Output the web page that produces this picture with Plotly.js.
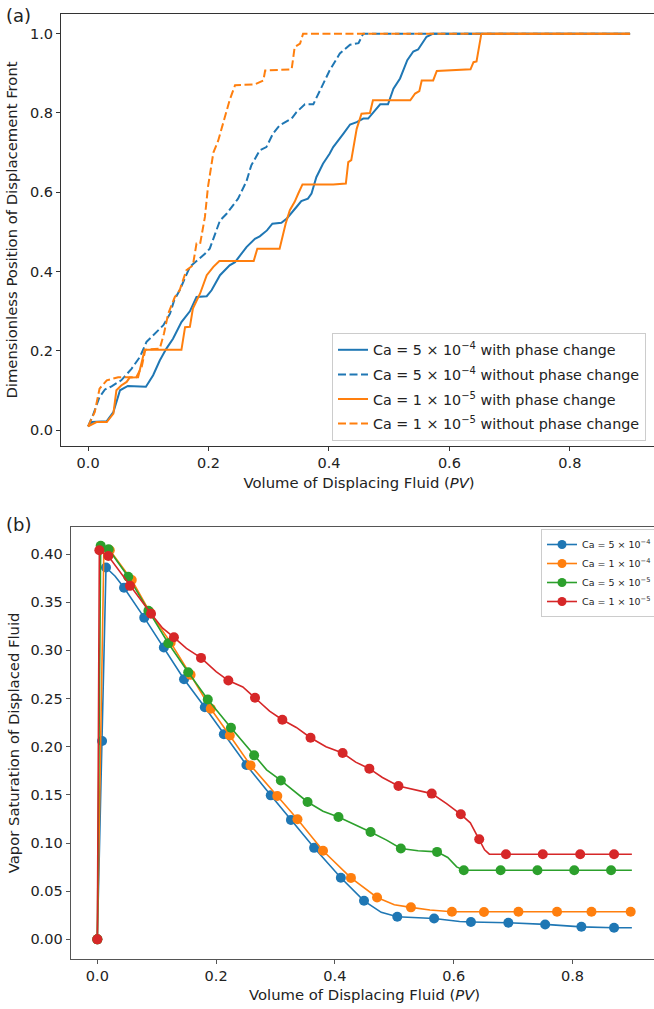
<!DOCTYPE html>
<html>
<head>
<meta charset="utf-8">
<script src="https://cdn.plot.ly/plotly-3.0.1.min.js"></script>
<style>html,body{margin:0;padding:0;overflow:hidden;background:#fff;}#chart{width:670px;height:1009px;}</style>
</head>
<body>
<div id="chart"></div>
<script>
// ---------- Panel (a): dimensionless front position ----------
const a_blue_with_x = [0,0.006,0.031,0.042,0.053,0.066,0.096,0.108,0.119,0.13,0.141,0.155,0.169,0.18,0.197,0.205,0.219,0.235,0.244,0.263,0.277,0.285,0.297,0.306,0.321,0.33,0.346,0.354,0.365,0.371,0.379,0.39,0.401,0.407,0.424,0.435,0.446,0.457,0.465,0.485,0.498,0.507,0.518,0.53,0.54,0.548,0.562,0.573,0.9];
const a_blue_with_y = [0.01,0.021,0.023,0.046,0.101,0.112,0.11,0.139,0.176,0.206,0.231,0.273,0.3,0.336,0.338,0.353,0.391,0.416,0.424,0.462,0.483,0.489,0.504,0.521,0.523,0.534,0.563,0.578,0.584,0.597,0.638,0.672,0.697,0.714,0.748,0.771,0.777,0.786,0.786,0.822,0.822,0.861,0.887,0.933,0.955,0.96,0.992,1.0,1.0];

const a_blue_without_x = [0,0.008,0.019,0.028,0.039,0.055,0.072,0.086,0.097,0.111,0.125,0.136,0.143,0.152,0.169,0.194,0.202,0.219,0.23,0.249,0.263,0.271,0.285,0.296,0.307,0.318,0.338,0.346,0.36,0.374,0.388,0.401,0.418,0.435,0.449,0.457,0.9];
const a_blue_without_y = [0.01,0.038,0.084,0.103,0.111,0.126,0.155,0.185,0.223,0.244,0.265,0.294,0.328,0.353,0.412,0.445,0.458,0.529,0.546,0.584,0.628,0.668,0.706,0.714,0.748,0.769,0.786,0.802,0.822,0.822,0.865,0.907,0.95,0.972,0.976,1.0,1.0];

const a_orange_with_x = [0,0.014,0.031,0.042,0.047,0.055,0.064,0.069,0.083,0.089,0.094,0.155,0.161,0.169,0.174,0.186,0.197,0.208,0.218,0.275,0.281,0.318,0.328,0.335,0.343,0.349,0.356,0.407,0.428,0.432,0.437,0.446,0.454,0.468,0.473,0.535,0.543,0.55,0.554,0.573,0.579,0.635,0.64,0.645,0.653,0.9];
const a_orange_with_y = [0.01,0.021,0.021,0.042,0.101,0.113,0.122,0.133,0.134,0.176,0.203,0.203,0.26,0.261,0.307,0.345,0.391,0.412,0.427,0.427,0.458,0.458,0.521,0.555,0.576,0.597,0.62,0.62,0.622,0.676,0.681,0.76,0.798,0.8,0.832,0.832,0.849,0.855,0.882,0.882,0.906,0.91,0.928,0.93,1.0,1.0];

const a_orange_without_x = [0,0.011,0.019,0.031,0.05,0.08,0.089,0.095,0.119,0.126,0.133,0.141,0.144,0.152,0.163,0.174,0.18,0.186,0.194,0.199,0.208,0.216,0.224,0.235,0.244,0.277,0.291,0.294,0.338,0.343,0.352,0.357,0.9];
const a_orange_without_y = [0.01,0.046,0.105,0.126,0.134,0.134,0.16,0.203,0.206,0.244,0.294,0.328,0.336,0.353,0.403,0.416,0.471,0.47,0.538,0.613,0.7,0.73,0.773,0.832,0.87,0.872,0.882,0.907,0.91,0.966,0.975,1.0,1.0];

const a_names = [
  'Ca = 5 × 10<sup>−4</sup> with phase change',
  'Ca = 5 × 10<sup>−4</sup> without phase change',
  'Ca = 1 × 10<sup>−5</sup> with phase change',
  'Ca = 1 × 10<sup>−5</sup> without phase change'
];

// ---------- Panel (b): vapor saturation ----------
const b_names = ['Ca = 5 × 10<sup>−4</sup>','Ca = 1 × 10<sup>−4</sup>','Ca = 5 × 10<sup>−5</sup>','Ca = 1 × 10<sup>−5</sup>'];

// markers (matplotlib markevery points)
const b1_mx = [0,0.008,0.0146,0.045,0.079,0.112,0.146,0.181,0.213,0.251,0.292,0.326,0.365,0.41,0.449,0.505,0.567,0.629,0.692,0.754,0.815,0.87];
const b1_my = [0,0.206,0.386,0.365,0.334,0.303,0.27,0.241,0.213,0.181,0.1495,0.124,0.095,0.064,0.04,0.0235,0.0217,0.018,0.0172,0.0155,0.013,0.012];
const b2_mx = [0,0.021,0.058,0.0887,0.1235,0.157,0.191,0.223,0.258,0.303,0.337,0.38,0.427,0.471,0.528,0.597,0.651,0.709,0.774,0.832,0.898];
const b2_my = [0,0.404,0.373,0.3395,0.308,0.2746,0.2394,0.2117,0.1806,0.1488,0.1247,0.092,0.0638,0.0435,0.0332,0.0286,0.0284,0.0286,0.0286,0.0286,0.0286];
const b3_mx = [0,0.0057,0.019,0.052,0.086,0.1195,0.153,0.186,0.225,0.264,0.309,0.354,0.406,0.46,0.511,0.572,0.617,0.679,0.741,0.803,0.865];
const b3_my = [0,0.4086,0.405,0.3765,0.3412,0.3074,0.2773,0.249,0.2197,0.191,0.165,0.1426,0.127,0.1115,0.0943,0.0908,0.0718,0.0718,0.0718,0.0718,0.0718];
const b4_mx = [0,0.0034,0.0185,0.055,0.0904,0.129,0.1746,0.2206,0.2655,0.3115,0.359,0.413,0.458,0.507,0.563,0.612,0.643,0.688,0.75,0.813,0.87];
const b4_my = [0,0.404,0.398,0.367,0.338,0.3136,0.2922,0.2687,0.2508,0.228,0.2093,0.1934,0.1772,0.1592,0.1513,0.1298,0.104,0.0884,0.0884,0.0884,0.0884];

// extra line points between markers (bends / wiggles / end of run)
const b1_lx = [0.03,0.478,0.61,0.9];
const b1_ly = [0.377,0.028,0.0185,0.012];
const b2_lx = [0.011,0.5,0.56,0.9];
const b2_ly = [0.403,0.036,0.0305,0.0286];
const b3_lx = [0.285,0.38,0.487,0.54,0.59,0.605,0.9];
const b3_ly = [0.176,0.133,0.103,0.092,0.085,0.0752,0.0718];
const b4_lx = [0.11,0.15,0.2,0.245,0.29,0.335,0.385,0.435,0.48,0.535,0.588,0.628,0.652,0.66,0.9];
const b4_ly = [0.323,0.302,0.278,0.262,0.237,0.22,0.2,0.184,0.168,0.155,0.141,0.121,0.093,0.0884,0.0884];

const C = ['#1f77b4','#ff7f0e','#2ca02c','#d62728'];
const FONT = 'DejaVu Sans, sans-serif';

function merge(mx,my,lx,ly){
  const pts = [];
  mx.forEach((v,i)=>pts.push([v,my[i]]));
  lx.forEach((v,i)=>pts.push([v,ly[i]]));
  pts.sort((p,q)=>p[0]-q[0]);
  return {x:pts.map(p=>p[0]), y:pts.map(p=>p[1])};
}

const traces = [];
const aSets = [
  [a_blue_with_x,a_blue_with_y,C[0],'solid'],
  [a_blue_without_x,a_blue_without_y,C[0],'8px,3.5px'],
  [a_orange_with_x,a_orange_with_y,C[1],'solid'],
  [a_orange_without_x,a_orange_without_y,C[1],'8px,3.5px']
];
aSets.forEach((s,i)=>{
  traces.push({x:s[0],y:s[1],mode:'lines',name:a_names[i],line:{color:s[2],width:2,dash:s[3]},
    xaxis:'x',yaxis:'y',legend:'legend',legendgroup:'a'+i,hoverinfo:'skip'});
});

const bSets = [
  [b1_mx,b1_my,b1_lx,b1_ly],
  [b2_mx,b2_my,b2_lx,b2_ly],
  [b3_mx,b3_my,b3_lx,b3_ly],
  [b4_mx,b4_my,b4_lx,b4_ly]
];
bSets.forEach((s,i)=>{
  const L = merge(s[0],s[1],s[2],s[3]);
  traces.push({x:L.x,y:L.y,mode:'lines',line:{color:C[i],width:1.6},showlegend:false,xaxis:'x2',yaxis:'y2',hoverinfo:'skip'});
  traces.push({x:s[0],y:s[1],mode:'markers',marker:{color:C[i],size:10,line:{width:0}},showlegend:false,xaxis:'x2',yaxis:'y2',hoverinfo:'skip'});
});
// legend entries for panel (b): line with marker
bSets.forEach((s,i)=>{
  traces.push({x:[null],y:[null],mode:'lines+markers',name:b_names[i],line:{color:C[i],width:1.6},
    marker:{color:C[i],size:9},xaxis:'x2',yaxis:'y2',legend:'legend2',legendgroup:'b'+i});
});

const W = 670, H = 1009;
const TICK = 14.5, TITLE = 14.8;
const axCommon = {showline:true, mirror:true, ticks:'outside', ticklen:4, tickwidth:1, showgrid:false, zeroline:false,
  tickfont:{family:FONT,size:TICK,color:'#222'}, automargin:false};

const layout = {
  width:W, height:H, margin:{l:0,r:0,t:0,b:0}, paper_bgcolor:'#fff', plot_bgcolor:'#fff',
  font:{family:FONT,color:'#222'}, showlegend:true,
  xaxis:Object.assign({}, axCommon, {domain:[61/W,657.2/W], range:[-0.045,0.945], anchor:'y',
    tickvals:[0,0.2,0.4,0.6,0.8], ticktext:['0.0','0.2','0.4','0.6','0.8'], linecolor:'#333', tickcolor:'#333',
    title:{text:'Volume of Displacing Fluid (<i>PV</i>)', font:{family:FONT,size:TITLE,color:'#222'}, standoff:7}}),
  yaxis:Object.assign({}, axCommon, {domain:[1-446/H,1-14/H], range:[-0.0395,1.0495], anchor:'x',
    tickvals:[0,0.2,0.4,0.6,0.8,1.0], ticktext:['0.0','0.2','0.4','0.6','0.8','1.0'], linecolor:'#333', tickcolor:'#333',
    title:{text:'Dimensionless Position of Displacement Front', font:{family:FONT,size:TITLE,color:'#222'}, standoff:8}}),
  xaxis2:Object.assign({}, axCommon, {domain:[70.6/W,658.6/W], range:[-0.045,0.945], anchor:'y2',
    tickvals:[0,0.2,0.4,0.6,0.8], ticktext:['0.0','0.2','0.4','0.6','0.8'], linecolor:'#555', tickcolor:'#555',
    title:{text:'Volume of Displacing Fluid (<i>PV</i>)', font:{family:FONT,size:TITLE,color:'#222'}, standoff:6}}),
  yaxis2:Object.assign({}, axCommon, {domain:[1-959/H,1-526.7/H], range:[-0.0204,0.4284], anchor:'x2',
    tickvals:[0,0.05,0.1,0.15,0.2,0.25,0.3,0.35,0.4], ticktext:['0.00','0.05','0.10','0.15','0.20','0.25','0.30','0.35','0.40'], linecolor:'#555', tickcolor:'#555',
    title:{text:'Vapor Saturation of Displaced Fluid', font:{family:FONT,size:TITLE,color:'#222'}, standoff:7}}),
  legend:{x:332/W, y:1-333/H, xanchor:'left', yanchor:'top', bgcolor:'rgba(255,255,255,0.85)', bordercolor:'#cccccc', borderwidth:1,
    font:{family:FONT,size:14.3,color:'#222'}, traceorder:'grouped', tracegroupgap:3, itemwidth:30},
  legend2:{x:541/W, y:1-529/H, xanchor:'left', yanchor:'top', bgcolor:'rgba(255,255,255,0.85)', bordercolor:'#cccccc', borderwidth:1,
    font:{family:FONT,size:9.5,color:'#222'}, traceorder:'grouped', tracegroupgap:0, itemwidth:30},
  annotations:[
    {text:'(a)', x:4/W, y:1-3/H, xref:'paper', yref:'paper', xanchor:'left', yanchor:'top', showarrow:false, font:{family:FONT,size:18,color:'#222'}},
    {text:'(b)', x:4/W, y:1-512/H, xref:'paper', yref:'paper', xanchor:'left', yanchor:'top', showarrow:false, font:{family:FONT,size:18,color:'#222'}}
  ]
};

Plotly.newPlot('chart', traces, layout, {displayModeBar:false, staticPlot:true});
</script>
</body>
</html>
